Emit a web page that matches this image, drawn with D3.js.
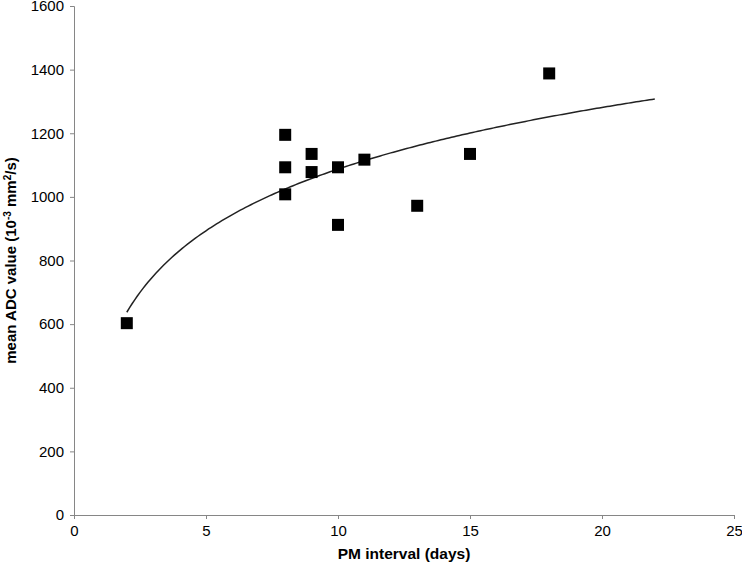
<!DOCTYPE html>
<meta charset="utf-8">
<head>
    <title>ADC vs PM interval</title>
    <script src="https://d3js.org/d3.v7.min.js"></script>
    <style>
        body { margin: 0; background: #fff; }
        text { font-family: "Liberation Sans", Arial, sans-serif; }
    </style>
</head>
<body>
    <svg width="742" height="567"></svg>
    <script>
        // data
        var pmDays = [2, 8, 8, 8, 9, 9, 10, 10, 11, 13, 15, 18];
        var adcValues = [603, 1195, 1093, 1008, 1135, 1078, 1093, 912, 1117, 972, 1135, 1388];
        var xTicks = [0, 5, 10, 15, 20, 25];
        var yTicks = [0, 200, 400, 600, 800, 1000, 1200, 1400, 1600];
        var trendRange = [2, 22];

        var svg = d3.select("svg");
        // plot box (note: "top" is reserved on window, so use other names)
        var plotL = 74, plotR = 734, plotT = 6, plotB = 515;

        var x = d3.scaleLinear().domain([0, 25]).range([plotL, plotR]);
        var y = d3.scaleLinear().domain([0, 1600]).range([plotB, plotT]);

        var axisColor = "#868686";

        // x axis
        var gx = svg.append("g")
            .attr("transform", "translate(0," + plotB + ")")
            .call(d3.axisBottom(x).tickValues(xTicks).tickSize(4).tickPadding(6).tickFormat(d3.format("d")));
        // y axis
        var gy = svg.append("g")
            .attr("transform", "translate(" + plotL + ",0)")
            .call(d3.axisLeft(y).tickValues(yTicks).tickSize(4).tickPadding(6).tickFormat(d3.format("d")));

        [gx, gy].forEach(function (g) {
            g.select(".domain").attr("stroke", axisColor);
            g.selectAll(".tick line").attr("stroke", axisColor);
            g.selectAll(".tick text")
                .attr("fill", "#000")
                .style("font-size", "15px")
                .style("font-family", "Liberation Sans, Arial, sans-serif");
        });

        // logarithmic trend line, least squares on ln(x)
        var lx = pmDays.map(function (d) { return Math.log(d); });
        var mx = d3.mean(lx), my = d3.mean(adcValues);
        var sxx = d3.sum(lx, function (d) { return (d - mx) * (d - mx); });
        var sxy = d3.sum(lx, function (d, i) { return (d - mx) * (adcValues[i] - my); });
        var b = sxy / sxx, a = my - b * mx;

        var trend = d3.range(0, 201).map(function (i) {
            var t = trendRange[0] + (trendRange[1] - trendRange[0]) * i / 200;
            return [t, a + b * Math.log(t)];
        });

        svg.append("path")
            .datum(trend)
            .attr("fill", "none")
            .attr("stroke", "#222")
            .attr("stroke-width", 1.5)
            .attr("d", d3.line()
                .x(function (d) { return x(d[0]); })
                .y(function (d) { return y(d[1]); }));

        // square markers
        var size = 12;
        svg.append("g")
            .selectAll("rect")
            .data(pmDays)
            .enter().append("rect")
            .attr("x", function (d) { return x(d) - size / 2; })
            .attr("y", function (d, i) { return y(adcValues[i]) - size / 2; })
            .attr("width", size)
            .attr("height", size)
            .attr("fill", "#000");

        // axis titles
        svg.append("text")
            .attr("x", (plotL + plotR) / 2)
            .attr("y", 559)
            .attr("text-anchor", "middle")
            .style("font-size", "15.5px")
            .style("font-weight", "bold")
            .text("PM interval (days)");

        var yt = svg.append("text")
            .attr("transform", "translate(16," + (plotT + plotB) / 2 + ") rotate(-90)")
            .attr("text-anchor", "middle")
            .style("font-size", "15px")
            .style("font-weight", "bold");
        yt.append("tspan").text("mean ADC value (10");
        yt.append("tspan").attr("dy", -5).style("font-size", "10px").text("-3");
        yt.append("tspan").attr("dy", 5).text(" mm");
        yt.append("tspan").attr("dy", -5).style("font-size", "10px").text("2");
        yt.append("tspan").attr("dy", 5).text("/s)");
    </script>
</body>
